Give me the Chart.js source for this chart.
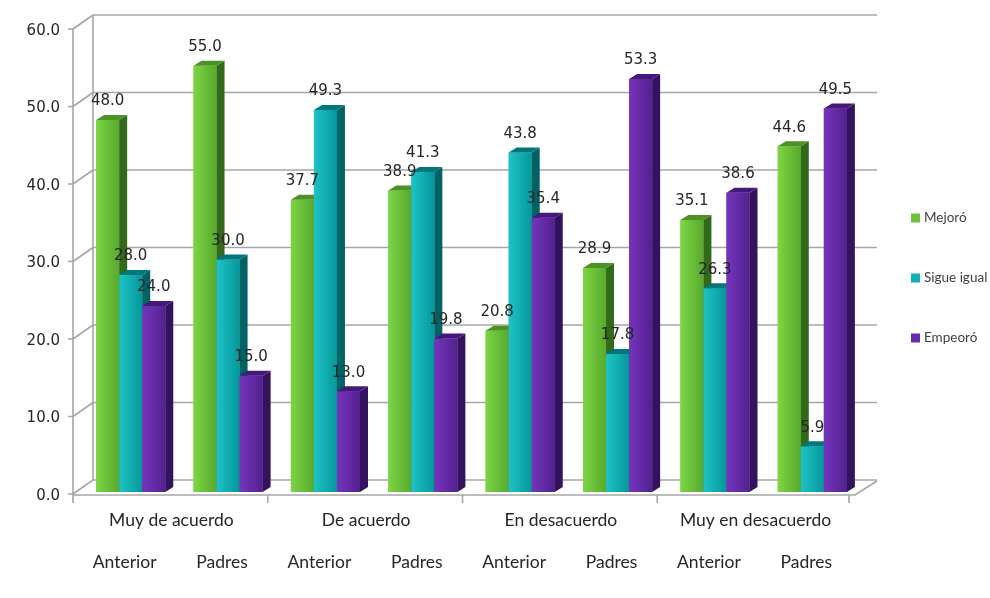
<!DOCTYPE html>
<html>
<head>
<meta charset="utf-8">
<script src="https://cdn.jsdelivr.net/npm/chart.js@4/dist/chart.umd.min.js"></script>
<style>
  html, body { margin: 0; padding: 0; background: #fff; }
  #wrap { width: 990px; height: 598px; }
</style>
</head>
<body>
<div id="wrap"><canvas id="chart"></canvas></div>
<script>
// Respuestas por grupo: "Anterior" (año anterior) vs "Padres"
const groups = ['Muy de acuerdo', 'De acuerdo', 'En desacuerdo', 'Muy en desacuerdo'];
const subLabels = ['Anterior', 'Padres', 'Anterior', 'Padres', 'Anterior', 'Padres', 'Anterior', 'Padres'];
const seriesNames = ['Mejoró', 'Sigue igual', 'Empeoró'];
const mejoro = [48.0, 55.0, 37.7, 38.9, 20.8, 28.9, 35.1, 44.6];
const sigueIgual = [28.0, 30.0, 49.3, 41.3, 43.8, 17.8, 26.3, 5.9];
const empeoro = [24.0, 15.0, 13.0, 19.8, 35.4, 53.3, 38.6, 49.5];
const yMin = 0, yMax = 60, yStep = 10;

// front (light -> dark), side, top
const palette = [
    { light: '#7dd545', dark: '#58a92d', side: '#33691a', top: '#4c9226', legend: '#6cc23a' },
    { light: '#1ec3c6', dark: '#05979a', side: '#006265', top: '#00787b', legend: '#12b0b3' },
    { light: '#7535bd', dark: '#52218e', side: '#33135e', top: '#45197c', legend: '#6a2cae' },
];

const GRID = '#a6a6a6';
const DEPTH_X = 8, DEPTH_Y = 5;   // bar 3D depth
const FRONT_DX = -9, FRONT_DY = 2; // front axis plane relative to bars
const BACK_DY = -12;              // back wall relative to bars

// Walls, floor and gridlines (oblique 3D look), drawn behind the bars.
const walls = {
    id: 'walls',
    beforeDatasetsDraw(chart) {
        const { ctx, chartArea: ca, scales } = chart;
        const ys = scales.y;
        const xbl = ca.left + 11, xbr = ca.right + 16;
        const fx = ca.left + FRONT_DX;
        ctx.save();
        ctx.strokeStyle = GRID;
        ctx.lineWidth = 1.6;
        ctx.beginPath();
        for (let v = yMin; v <= yMax; v += yStep) {
            const y = ys.getPixelForValue(v);
            ctx.moveTo(xbl, y + BACK_DY); ctx.lineTo(xbr, y + BACK_DY);
            ctx.moveTo(fx, y + FRONT_DY); ctx.lineTo(xbl, y + BACK_DY);
            ctx.moveTo(fx - 5, y + FRONT_DY); ctx.lineTo(fx, y + FRONT_DY);
        }
        const yTop = ys.getPixelForValue(yMax), y0 = ys.getPixelForValue(yMin);
        // back-left wall edge and front axis
        ctx.moveTo(xbl, yTop + BACK_DY); ctx.lineTo(xbl, y0 + BACK_DY);
        ctx.moveTo(fx, yTop + FRONT_DY); ctx.lineTo(fx, y0 + FRONT_DY + 1);
        // floor
        const fr = ca.right - 6;
        ctx.moveTo(fx, y0 + FRONT_DY + 1); ctx.lineTo(fr, y0 + FRONT_DY + 1);
        ctx.lineTo(xbr, y0 + BACK_DY + 1);
        // group boundaries
        const step = (ca.right - ca.left) / groups.length;
        for (let i = 0; i <= groups.length; i++) {
            const x = fx + step * i - (i === groups.length ? 3 : 0);
            ctx.moveTo(x, y0 + FRONT_DY + 1); ctx.lineTo(x, y0 + FRONT_DY + 9);
        }
        ctx.stroke();
        ctx.restore();
    },
};

// 3D faces over the library bars + value labels
const bars3d = {
    id: 'bars3d',
    afterDatasetsDraw(chart) {
        const { ctx } = chart;
        const metas = chart.data.datasets.map((_, i) => chart.getDatasetMeta(i));
        ctx.save();
        for (let j = 0; j < subLabels.length; j++) {
            metas.forEach((meta, s) => {
                const bar = meta.data[j];
                const p = palette[s];
                const w = bar.width, l = bar.x - w / 2, r = bar.x + w / 2;
                const top = bar.y, base = bar.base;
                const g = ctx.createLinearGradient(l, 0, r, 0);
                g.addColorStop(0, p.light);
                g.addColorStop(1, p.dark);
                ctx.fillStyle = g;
                ctx.fillRect(l, top, w, base - top);
                ctx.fillStyle = p.side;
                ctx.beginPath();
                ctx.moveTo(r, top); ctx.lineTo(r + DEPTH_X, top - DEPTH_Y);
                ctx.lineTo(r + DEPTH_X, base - DEPTH_Y); ctx.lineTo(r, base);
                ctx.closePath(); ctx.fill();
                ctx.fillStyle = p.top;
                ctx.beginPath();
                ctx.moveTo(l, top); ctx.lineTo(l + DEPTH_X, top - DEPTH_Y);
                ctx.lineTo(r + DEPTH_X, top - DEPTH_Y); ctx.lineTo(r, top);
                ctx.closePath(); ctx.fill();
            });
        }
        ctx.font = '15px "DejaVu Sans"';
        ctx.fillStyle = '#262626';
        ctx.textAlign = 'center';
        ctx.textBaseline = 'bottom';
        metas.forEach((meta, s) => {
            meta.data.forEach((bar, j) => {
                const v = chart.data.datasets[s].data[j];
                ctx.fillText(v.toFixed(1), bar.x, bar.y - DEPTH_Y - 6);
            });
        });
        ctx.restore();
    },
};

// Legend on the right, widely spaced like the original
const sideLegend = {
    id: 'sideLegend',
    afterDraw(chart) {
        const { ctx, chartArea: ca } = chart;
        ctx.save();
        ctx.font = '13.5px Lato';
        ctx.textBaseline = 'middle';
        ctx.textAlign = 'left';
        chart.data.datasets.forEach((ds, i) => {
            const y = ca.top + 191 + i * 60;
            const x = ca.right + 50;
            ctx.fillStyle = palette[i].legend;
            ctx.fillRect(x, y - 4.5, 9, 9);
            ctx.fillStyle = '#404040';
            ctx.fillText(ds.label, x + 13, y);
        });
        ctx.restore();
    },
};

const axisFont = { family: 'Lato', size: 17.5 };

new Chart(document.getElementById('chart'), {
    type: 'bar',
    data: {
        labels: subLabels,
        datasets: [
            { label: seriesNames[0], data: mejoro, backgroundColor: palette[0].light },
            { label: seriesNames[1], data: sigueIgual, backgroundColor: palette[1].light },
            { label: seriesNames[2], data: empeoro, backgroundColor: palette[2].light },
        ],
    },
    options: {
        responsive: true,
        maintainAspectRatio: false,
        animation: false,
        layout: { padding: { top: 27, right: 129, left: 0, bottom: 0 } },
        datasets: { bar: { categoryPercentage: 0.71, barPercentage: 1.0, borderWidth: 0 } },
        plugins: { legend: { display: false }, tooltip: { enabled: false } },
        scales: {
            x: {
                weight: 1,
                grid: { display: false },
                border: { display: false },
                ticks: { color: '#262626', font: axisFont, padding: 2, labelOffset: -6, maxRotation: 0 },
                afterFit: (s) => { s.height = 56; },
            },
            xg: {
                type: 'category',
                labels: groups,
                position: 'bottom',
                offset: true,
                weight: 0,
                grid: { display: false },
                border: { display: false },
                ticks: { color: '#262626', font: axisFont, padding: 10, labelOffset: -8, maxRotation: 0 },
                afterFit: (s) => { s.height = 50; },
            },
            y: {
                min: yMin,
                max: yMax,
                grid: { display: false },
                border: { display: false },
                ticks: {
                    stepSize: yStep,
                    color: '#262626',
                    font: { family: 'DejaVu Sans', size: 15 },
                    padding: 14,
                    labelOffset: 4,
                    callback: (v) => Number(v).toFixed(1),
                },
                afterFit: (s) => { s.width = 82; },
            },
        },
    },
    plugins: [walls, bars3d, sideLegend],
});
</script>
</body>
</html>
